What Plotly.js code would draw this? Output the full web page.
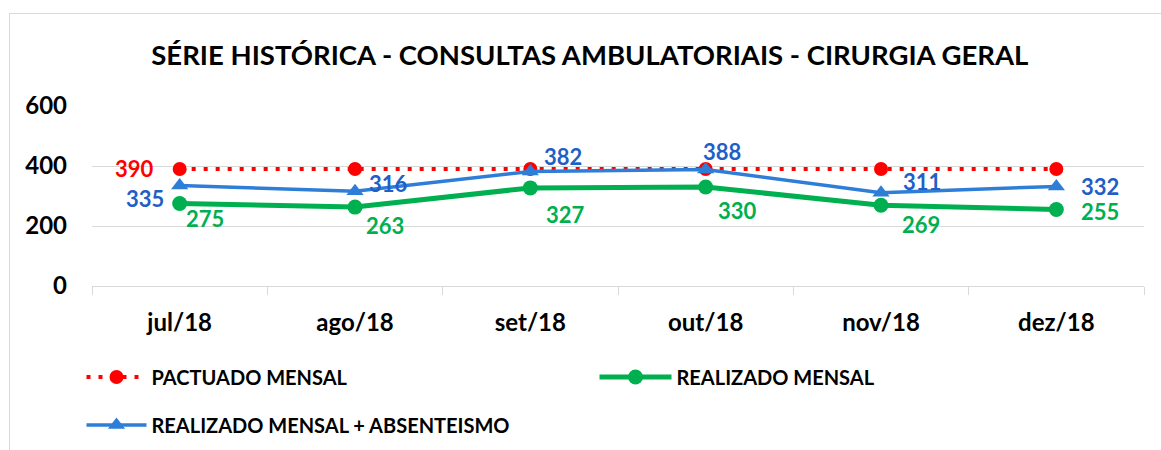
<!DOCTYPE html>
<html>
<head>
<meta charset="utf-8">
<script src="https://cdn.plot.ly/plotly-3.0.1.min.js"></script>
<style>
  html, body { margin:0; padding:0; background:#fff; }
  #wrap { position:relative; width:1161px; height:450px; overflow:hidden; }
  #chart { position:absolute; left:0; top:0; width:1161px; height:450px; }
  #frame { position:absolute; left:9px; top:13px; width:1200px; height:500px; border:1px solid #d9d9d9; box-sizing:border-box; pointer-events:none; }
</style>
</head>
<body>
<div id="wrap">
  <div id="chart"></div>
  <div id="frame"></div>
</div>
<script>
// ---- data ----
const months = ["jul/18", "ago/18", "set/18", "out/18", "nov/18", "dez/18"];
const pactuado = [390, 390, 390, 390, 390, 390];
const realizado = [275, 263, 327, 330, 269, 255];
const realizadoAbs = [335, 316, 382, 388, 311, 332];
const seriesNames = ["PACTUADO MENSAL", "REALIZADO MENSAL", "REALIZADO MENSAL + ABSENTEISMO"];
const yTicks = [0, 200, 400, 600];

// ---- label offsets (pixels) ----
const absShift = [[-35, -13], [33, 8], [33, 15], [16, 18], [41, 11], [44, 0]];
const realShift = [[25, -15], [30, -18], [35, -27], [32, -23], [40, -19], [44, -2]];
const pactShift = [[-45, 1]];

const FONT = "Lato, 'Open Sans', sans-serif";
const RED = "#FF0000", GREEN = "#00B050", BLUE = "#2E7ED8", BLUE_TXT = "#1F5FC6";

const traces = [
  {
    x: months, y: pactuado, name: seriesNames[0], type: "scatter", mode: "lines+markers",
    line: { color: RED, width: 4, dash: "4px,8px" },
    marker: { color: RED, size: 14, symbol: "circle" },
    legend: "legend", hoverinfo: "skip"
  },
  {
    x: months, y: realizado, name: seriesNames[1], type: "scatter", mode: "lines+markers",
    line: { color: GREEN, width: 5 },
    marker: { color: GREEN, size: 15, symbol: "circle" },
    legend: "legend2", hoverinfo: "skip"
  },
  {
    x: months, y: realizadoAbs, name: seriesNames[2], type: "scatter", mode: "lines+markers",
    line: { color: BLUE, width: 3.5 },
    marker: { color: BLUE, size: 15, symbol: "triangle-up" },
    legend: "legend3", hoverinfo: "skip"
  }
];

const annotations = [];
function addLabels(vals, shifts, color) {
  shifts.forEach((s, i) => {
    annotations.push({
      x: months[i], y: vals[i], xref: "x", yref: "y",
      text: String(vals[i]), showarrow: false, borderpad: 0,
      xshift: s[0], yshift: s[1],
      font: { family: FONT, size: 22, color: color, weight: 700 }
    });
  });
}
addLabels(pactuado, pactShift, RED);
addLabels(realizadoAbs, absShift, BLUE_TXT);
addLabels(realizado, realShift, GREEN);

const legendFont = { family: FONT, size: 20, color: "#000", weight: 700 };
function legendAt(x, y, w) {
  return {
    orientation: "h", xref: "container", yref: "container",
    x: x, xanchor: "left", y: y, yanchor: "middle", itemwidth: w,
    font: legendFont, bgcolor: "rgba(0,0,0,0)", borderwidth: 0
  };
}

const layout = {
  width: 1161, height: 450,
  margin: { l: 92, r: 17, t: 106, b: 164 },
  paper_bgcolor: "rgba(0,0,0,0)", plot_bgcolor: "#fff",
  font: { family: FONT, color: "#000" },
  title: {
    text: "SÉRIE HISTÓRICA - CONSULTAS AMBULATORIAIS - CIRURGIA GERAL",
    x: 0.508, xanchor: "center", y: 0.878, yanchor: "middle",
    font: { family: FONT, size: 27.5, color: "#000", weight: 700 }
  },
  xaxis: {
    type: "category", range: [-0.5, 5.5], fixedrange: true,
    showgrid: false, zeroline: false,
    showline: true, linecolor: "#d9d9d9", linewidth: 1,
    ticks: "outside", tickson: "boundaries", ticklen: 8, tickcolor: "#d9d9d9",
    tickfont: { family: FONT, size: 24, color: "#000", weight: 700 },
    ticklabelstandoff: 15
  },
  yaxis: {
    range: [0, 600], tickvals: yTicks, ticktext: yTicks.map(String), fixedrange: true,
    showgrid: true, gridcolor: "#d9d9d9", gridwidth: 1, zeroline: false, showline: false,
    ticks: "", tickfont: { family: FONT, size: 24, color: "#000", weight: 700 },
    ticklabelstandoff: 24
  },
  showlegend: true,
  legend: legendAt(81.5 / 1161, 0.1622, 60),
  legend2: legendAt(594.5 / 1161, 0.1622, 72),
  legend3: legendAt(81.5 / 1161, 0.0556, 60),
  annotations: annotations
};

Plotly.newPlot("chart", traces, layout, { staticPlot: true, displayModeBar: false });
</script>
</body>
</html>
